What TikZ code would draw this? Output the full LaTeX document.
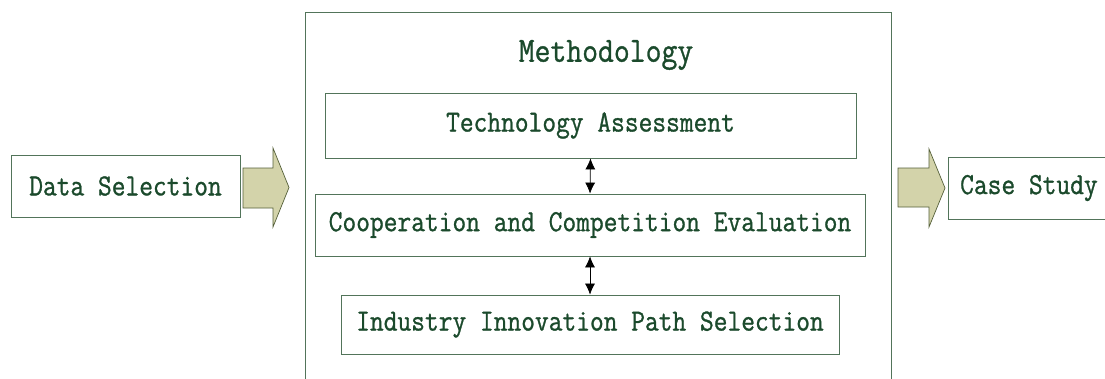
\documentclass[tikz,border=0pt]{standalone}
\usepackage{fontspec}
\setmonofont[FakeBold=1]{Latin Modern Mono}
\usetikzlibrary{arrows.meta}
\definecolor{txtgreen}{HTML}{1B4A2C}
\definecolor{boxline}{HTML}{52745A}
\definecolor{arrfill}{HTML}{D3D3AA}
\definecolor{arrline}{HTML}{55603A}
\newcommand{\tallt}[1]{\raisebox{-2pt}{\scalebox{1}[1.15]{#1}}}
\tikzset{
  box/.style={draw=boxline, line width=0.8pt, fill=white, text=txtgreen, font=\ttfamily\fontsize{26.7}{26.7}\selectfont, inner sep=0pt},
  plain/.style={text=txtgreen, font=\ttfamily\fontsize{26.7}{26.7}\selectfont, inner sep=0pt},
  blockarrow/.style={draw=arrline, fill=arrfill, line width=0.7pt, line join=miter},
  link/.style={draw=black, line width=0.7pt, {Latex[length=11pt,width=10pt]}-{Latex[length=11pt,width=10pt]}}
}
\begin{document}
\begin{tikzpicture}[x=1pt,y=-1pt]
\useasboundingbox (0,0) rectangle (1105,378);
\clip (0,0) rectangle (1105,378);
% methodology frame
\draw[boxline, line width=0.8pt] (305,390) -- (305,12) -- (891,12) -- (891,390);
\node[text=txtgreen, font=\ttfamily\fontsize{30.8}{30.8}\selectfont] (meth) at (606,55) {\tallt{Methodology}};
% inner boxes
\node[box, minimum width=531pt, minimum height=65pt] (tech) at (590.5,125.5) {\tallt{Technology Assessment}};
\node[box, minimum width=550pt, minimum height=62pt] (coop) at (590,225) {\tallt{Cooperation and Competition Evaluation}};
\node[box, minimum width=498pt, minimum height=59pt] (ind) at (590,324.5) {\tallt{Industry Innovation Path Selection}};
\draw[link] (tech.south) -- (coop.north);
\draw[link] (coop.south) -- (ind.north);
% side boxes
\node[box, minimum width=229pt, minimum height=62pt] (data) at (125.5,186) {\tallt{Data Selection}};
\node[box, minimum width=180pt, minimum height=62pt, anchor=west] (case) at (948,188) {};
\node[plain, anchor=west] (casetxt) at (960,188) {\tallt{Case Study}};
% block arrows
\draw[blockarrow] (243,168) -- (273,168) -- (273,148) -- (289,187.5) -- (273,227) -- (273,208) -- (243,208) -- cycle;
\draw[blockarrow] (898,168) -- (929,168) -- (929,149) -- (945,188) -- (929,227) -- (929,207) -- (898,207) -- cycle;
\end{tikzpicture}
\end{document}
